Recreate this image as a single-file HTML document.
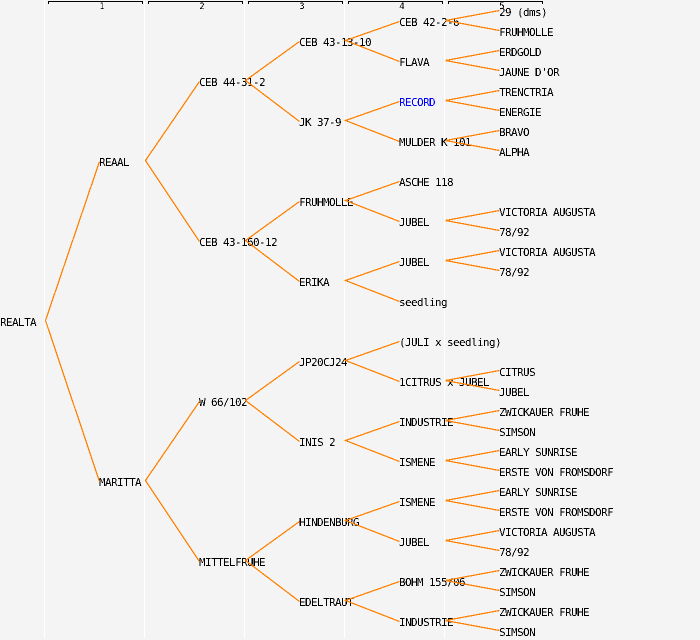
<!DOCTYPE html>
<html><head><meta charset="utf-8"><style>
html,body{margin:0;padding:0;background:#f4f4f4}
svg{display:block}
text{font-family:"DejaVu Sans Mono","Liberation Mono",monospace;font-size:11px;letter-spacing:-0.62px;fill:#000;white-space:pre}
text.n{font-size:9px;letter-spacing:0;text-anchor:middle}
</style></head><body>
<svg width="700" height="640" viewBox="0 0 700 640" xmlns="http://www.w3.org/2000/svg">
<defs><filter id="t" filterUnits="userSpaceOnUse" x="0" y="0" width="700" height="640" color-interpolation-filters="sRGB"><feComponentTransfer><feFuncA type="discrete" tableValues="0 0 1 1"/></feComponentTransfer></filter></defs>
<rect width="700" height="640" fill="#f4f4f4"/>
<path d="M44.5 0V638M144.5 0V638M244.5 0V638M344.5 0V638M444.5 0V638" stroke="#fff" fill="none"/>
<path d="M48.5 4V1.500H142.500V4M148.500 4V1.500H242.500V4M248.500 4V1.500H342.500V4M348.500 4V1.500H442.500V4M448.500 4V1.500H542.500V4" stroke="#000" fill="none" shape-rendering="crispEdges"/>
<g filter="url(#t)">
<text class="n" x="102" y="9">1</text><text class="n" x="202" y="9">2</text><text class="n" x="302" y="9">3</text><text class="n" x="402" y="9">4</text><text class="n" x="502" y="9">5</text>
<text x="0" y="326">REALTA</text>
<text x="99" y="166">REAAL</text><text x="99" y="486">MARITTA</text>
<text x="199" y="86">CEB 44-31-2</text><text x="199" y="246">CEB 43-160-12</text><text x="199" y="406">W 66/102</text><text x="199" y="566">MITTELFRUHE</text>
<text x="299" y="46">CEB 43-13-10</text><text x="299" y="126">JK 37-9</text><text x="299" y="206">FRUHMOLLE</text><text x="299" y="286">ERIKA</text><text x="299" y="366">JP20CJ24</text><text x="299" y="446">INIS 2</text><text x="299" y="526">HINDENBURG</text><text x="299" y="606">EDELTRAUT</text>
<text x="399" y="26">CEB 42-2-6</text><text x="399" y="66">FLAVA</text><text x="399" y="106" style="fill:#0000ff">RECORD</text><text x="399" y="146">MULDER K 101</text><text x="399" y="186">ASCHE 118</text><text x="399" y="226">JUBEL</text><text x="399" y="266">JUBEL</text><text x="399" y="306">seedling</text><text x="399" y="346">(JULI x seedling)</text><text x="399" y="386">1CITRUS x JUBEL</text><text x="399" y="426">INDUSTRIE</text><text x="399" y="466">ISMENE</text><text x="399" y="506">ISMENE</text><text x="399" y="546">JUBEL</text><text x="399" y="586">BOHM 155/06</text><text x="399" y="626">INDUSTRIE</text>
<text x="499" y="16">29 (dms)</text><text x="499" y="36">FRUHMOLLE</text><text x="499" y="56">ERDGOLD</text><text x="499" y="76">JAUNE D'OR</text><text x="499" y="96">TRENCTRIA</text><text x="499" y="116">ENERGIE</text><text x="499" y="136">BRAVO</text><text x="499" y="156">ALPHA</text>
<text x="499" y="216">VICTORIA AUGUSTA</text><text x="499" y="236">78/92</text><text x="499" y="256">VICTORIA AUGUSTA</text><text x="499" y="276">78/92</text>
<text x="499" y="376">CITRUS</text><text x="499" y="396">JUBEL</text><text x="499" y="416">ZWICKAUER FRUHE</text><text x="499" y="436">SIMSON</text><text x="499" y="456">EARLY SUNRISE</text><text x="499" y="476">ERSTE VON FROMSDORF</text><text x="499" y="496">EARLY SUNRISE</text><text x="499" y="516">ERSTE VON FROMSDORF</text><text x="499" y="536">VICTORIA AUGUSTA</text><text x="499" y="556">78/92</text><text x="499" y="576">ZWICKAUER FRUHE</text><text x="499" y="596">SIMSON</text><text x="499" y="616">ZWICKAUER FRUHE</text><text x="499" y="636">SIMSON</text>
</g>
<path transform="translate(0.5,0.5)" fill="none" stroke="#ff8000" stroke-width="1.25" shape-rendering="crispEdges" d="
M99 161L45 320L99 481
M199 81L145 160L199 241
M199 401L145 480L199 561
M299 41L245 80L299 121
M299 201L245 240L299 281
M299 361L245 400L299 441
M299 521L245 560L299 601
M399 21L345 40L399 61
M399 101L345 120L399 141
M399 181L345 200L399 221
M399 261L345 280L399 301
M399 341L345 360L399 381
M399 421L345 440L399 461
M399 501L345 520L399 541
M399 581L345 600L399 621
M499 10L445 20L499 30
M499 50L445 60L499 70
M499 90L445 100L499 110
M499 130L445 140L499 150
M499 210L445 220L499 230
M499 250L445 260L499 270
M499 370L445 380L499 390
M499 410L445 420L499 430
M499 450L445 460L499 470
M499 490L445 500L499 510
M499 530L445 540L499 550
M499 570L445 580L499 590
M499 610L445 620L499 630"/>
</svg>
</body></html>
